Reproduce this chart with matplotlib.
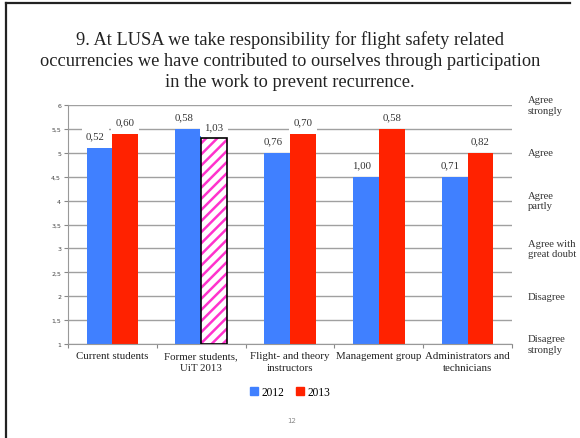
import numpy as np
import matplotlib
matplotlib.use("Agg")
from matplotlib import pyplot as plt
from matplotlib.patches import Patch
import matplotlib.transforms as mtransforms

# Data
categories = ["Current students", "Former students,\nUiT 2013", "Flight- and theory\ninstructors",
              "Management group", "Administrators and\ntechnicians"]
mean_2012 = [5.1, 5.5, 5.0, 4.5, 4.5]
mean_2013 = [5.4, 5.3, 5.4, 5.5, 5.0]
sd_2012 = ["0,52", "0,58", "0,76", "1,00", "0,71"]
sd_2013 = ["0,60", "1,03", "0,70", "0,58", "0,82"]
scale_labels = ["Agree\nstrongly", "Agree", "Agree\npartly", "Agree with\ngreat doubt", "Disagree", "Disagree\nstrongly"]
scale_values = [6, 5, 4, 3, 2, 1]
hatched_2013 = [False, True, False, False, False]

blue = '#4080ff'
red = '#ff2200'
magenta = '#ff33cc'
serif = ['Liberation Serif', 'DejaVu Serif']

plt.rcParams['font.family'] = serif
plt.rcParams['hatch.linewidth'] = 1.8

fig = plt.figure(figsize=(5.8, 4.39), dpi=100)
ax = fig.add_axes([0.1172, 0.2141, 0.7655, 0.5444])

x = np.arange(len(categories))
w = 0.29

ax.bar(x - w / 2, np.array(mean_2012) - 1, w, bottom=1, color=blue, zorder=2)
for i in range(len(categories)):
    if hatched_2013[i]:
        ax.bar(x[i] + w / 2, mean_2013[i] - 1, w, bottom=1, color='white', edgecolor=magenta,
               hatch='///', linewidth=0, zorder=2)
        ax.bar(x[i] + w / 2, mean_2013[i] - 1, w, bottom=1, fill=False, edgecolor='black',
               linewidth=1.2, zorder=3)
    else:
        ax.bar(x[i] + w / 2, mean_2013[i] - 1, w, bottom=1, color=red, zorder=2)

# standard deviation labels above the bars, white box hides the grid
for i in range(len(categories)):
    ax.annotate(sd_2012[i], (x[i] - w / 2, mean_2012[i]), xytext=(-3, 8.5), textcoords='offset points',
                ha='center', va='center', fontsize=7.8, color='#333333', zorder=4,
                bbox=dict(boxstyle='square,pad=0.4', fc='white', ec='none'))
    ax.annotate(sd_2013[i], (x[i] + w / 2, mean_2013[i]), xytext=(0, 8.5), textcoords='offset points',
                ha='center', va='center', fontsize=7.8, color='#333333', zorder=4,
                bbox=dict(boxstyle='square,pad=0.4', fc='white', ec='none'))

ax.set_xlim(-0.5, len(categories) - 0.5)
ax.set_ylim(1, 6)
ax.set_yticks(np.arange(1, 6.01, 0.5))
ax.set_yticklabels([("%g" % v).replace('.', ',') for v in np.arange(1, 6.01, 0.5)],
                   fontsize=4.5, color='#444444', family=['DejaVu Sans'])
ax.yaxis.grid(True, color='#a0a0a0', linewidth=1.0, zorder=0)
ax.set_axisbelow(True)

ax.set_xticks(np.arange(-0.5, len(categories)), minor=False)
ax.set_xticklabels([])
ax.set_xticks(x, minor=True)
ax.set_xticklabels(categories, minor=True, fontsize=7.8, color='#222222', linespacing=1.5)
ax.tick_params(axis='x', which='minor', length=0, pad=5)
ax.tick_params(axis='x', which='major', length=3, color='#888888', direction='out')
ax.tick_params(axis='y', length=3, color='#888888', pad=2)

for s in ['top', 'right']:
    ax.spines[s].set_visible(False)
for s in ['left', 'bottom']:
    ax.spines[s].set_color('#999999')

trans = mtransforms.blended_transform_factory(ax.transAxes, ax.transData)
for lab, v in zip(scale_labels, scale_values):
    ax.text(1.036, v, lab, transform=trans, ha='left', va='center', fontsize=7.7,
            color='#333333', linespacing=1.25)

fig.text(0.5, 0.861, "9. At LUSA we take responsibility for flight safety related\n"
         "occurrencies we have contributed to ourselves through participation\n"
         "in the work to prevent recurrence.", ha='center', va='center', fontsize=13.2,
         color='#222222', linespacing=1.32)

handles = [Patch(color=blue, label='2012'), Patch(color=red, label='2013')]
fig.legend(handles=handles, loc='center', bbox_to_anchor=(0.5, 0.105), ncol=2, frameon=False,
           fontsize=8.3, handlelength=0.7, handleheight=0.7, handletextpad=0.3, columnspacing=1.0)

fig.text(0.503, 0.041, "12", ha='center', va='center', fontsize=5, color='#888888',
         family=['DejaVu Sans'])

# slide frame (top and left edges only)
fig.add_artist(plt.Line2D([6 / 580, 570 / 580], [1 - 4 / 439, 1 - 4 / 439], color='#222222', linewidth=1.6))
fig.add_artist(plt.Line2D([6 / 580, 6 / 580], [0, 1 - 4 / 439], color='#222222', linewidth=1.6))

fig.savefig("out.png", dpi=100)
